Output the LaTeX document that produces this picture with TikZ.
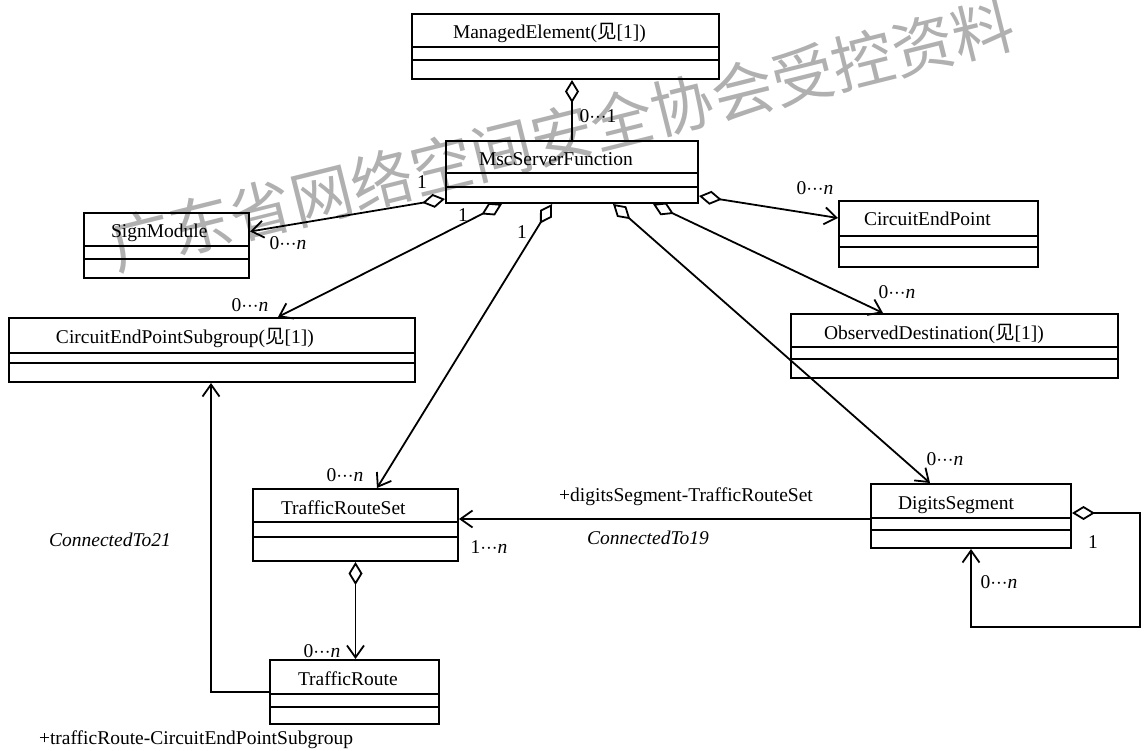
\documentclass[tikz,border=0pt]{standalone}
\usepackage{fontspec}
\setmainfont{Liberation Serif}
\newfontfamily\cjk{Noto Sans CJK SC}
\usepackage{tikz}
\usetikzlibrary{arrows.meta,positioning,calc}
\definecolor{wmgray}{HTML}{B0B0B0}
\newcommand{\mdots}{${\cdot}{\cdot}{\cdot}$}
\newcommand{\mzn}{0\mdots\textit{n}}

\begin{document}
\begin{tikzpicture}[x=1pt,y=-1pt, every node/.style={font=\fontsize{19.5}{22}\selectfont},
  umlclass/.style n args={3}{draw,line width=2pt,anchor=north west,inner xsep=0pt,inner ysep=3pt,text width=#1,text height=22pt,text depth=#2,align=left,execute at begin node={\hspace*{#3}}},
  mult/.style={inner sep=1pt},
  aggline/.style={line width=1.8pt,{Diamond[open,length=23pt,width=14pt]}-},
  agg/.style={line width=1.8pt,{Diamond[open,length=23pt,width=14pt]}-{Straight Barb[length=12pt,width=17pt]}},
  assoc/.style={line width=1.8pt,-{Straight Barb[length=12pt,width=17pt]}}]
\useasboundingbox (0,0) rectangle (1148,751);
\node[text=wmgray,font=\cjk\fontsize{62}{62}\selectfont,rotate=14] (wm) at (562,135) {广东省网络空间安全协会受控资料};

\node[umlclass={307pt}{37pt}{41pt}] (me) at (411,13) {ManagedElement({\cjk 见}[1])};
\node[umlclass={252pt}{34pt}{33pt}] (msf) at (445,140) {MscServerFunction};
\node[umlclass={165pt}{37pt}{27pt}] (sm) at (83,212) {SignModule};
\node[umlclass={406pt}{36pt}{47pt}] (ceps) at (8,317) {CircuitEndPointSubgroup({\cjk 见}[1])};
\node[umlclass={199pt}{38pt}{25pt}] (cep) at (838,200) {CircuitEndPoint};
\node[umlclass={327pt}{36pt}{33pt}] (od) at (790,313) {ObservedDestination({\cjk 见}[1])};
\node[umlclass={205pt}{44pt}{28pt}] (trs) at (252,488) {TrafficRouteSet};
\node[umlclass={169pt}{36pt}{28pt}] (tr) at (269,659) {TrafficRoute};
\node[umlclass={200pt}{36pt}{27pt}] (ds) at (870,483) {DigitsSegment};
\foreach \c/\a/\b in {me/34/47,msf/33/47,sm/34/47,ceps/36/46,cep/36/47,od/34/46,trs/34/49,tr/35/48,ds/35/47}{
  \draw[line width=1.8pt] ([yshift=-\a pt]\c.north west) -- ([yshift=-\a pt]\c.north east);
  \draw[line width=1.8pt] ([yshift=-\b pt]\c.north west) -- ([yshift=-\b pt]\c.north east);
}

\draw[aggline] (msf.north |- me.south) -- (msf.north);
\draw[agg] ([yshift=5pt]msf.south west) -- ([yshift=14pt]sm.east);
\draw[agg] ([xshift=57pt]msf.south west) -- ([xshift=270pt]ceps.north west);
\draw[agg] ([xshift=107pt]msf.south west) -- ([xshift=125pt]trs.north west);
\draw[agg] ([xshift=168pt]msf.south west) -- ([xshift=60pt]ds.north west);
\draw[agg] ([xshift=208pt]msf.south west) -- ([xshift=93pt]od.north west);
\draw[agg] ([yshift=8pt]msf.south east) -- ([yshift=-18pt]cep.north west);
\draw[assoc] ([yshift=-36pt]ds.north west) -- ([yshift=-31pt]trs.north east);
\draw[agg] (trs.south) -- (trs.south |- tr.north);
\draw[assoc] ([yshift=-33pt]tr.north west) -| ([xshift=203pt]ceps.south west);
\draw[agg] ([yshift=-30pt]ds.north east) -- ++(68,0) -- ++(0,114) -| (ds.south);

\node[mult] (m01) at (598,116) {0\mdots1};
\node[mult] (s1) at (422,182) {1};
\node[mult] (smn) at (288,243) {\mzn};
\node[mult] (c1) at (463,215) {1};
\node[mult] (cpn) at (250,305) {\mzn};
\node[mult] (t1) at (522,232) {1};
\node[mult] (tsn) at (345,475) {\mzn};
\node[mult] (dsn) at (945,459) {\mzn};
\node[mult] (odn) at (897,292) {\mzn};
\node[mult] (cen) at (815,188) {\mzn};
\node[mult] (r1n) at (489,547) {1\mdots\textit{n}};
\node[mult] (trn) at (322,651) {\mzn};
\node[mult] (ds1) at (1093,542) {1};
\node[mult] (dsl) at (999,582) {\mzn};
\node (dsrole) at (686,497) {+digitsSegment-TrafficRouteSet};
\node (c19) at (648,538) {\textit{ConnectedTo19}};
\node (c21) at (110,540) {\textit{ConnectedTo21}};
\node (trrole) at (196,740) {+trafficRoute-CircuitEndPointSubgroup};
\end{tikzpicture}
\end{document}
